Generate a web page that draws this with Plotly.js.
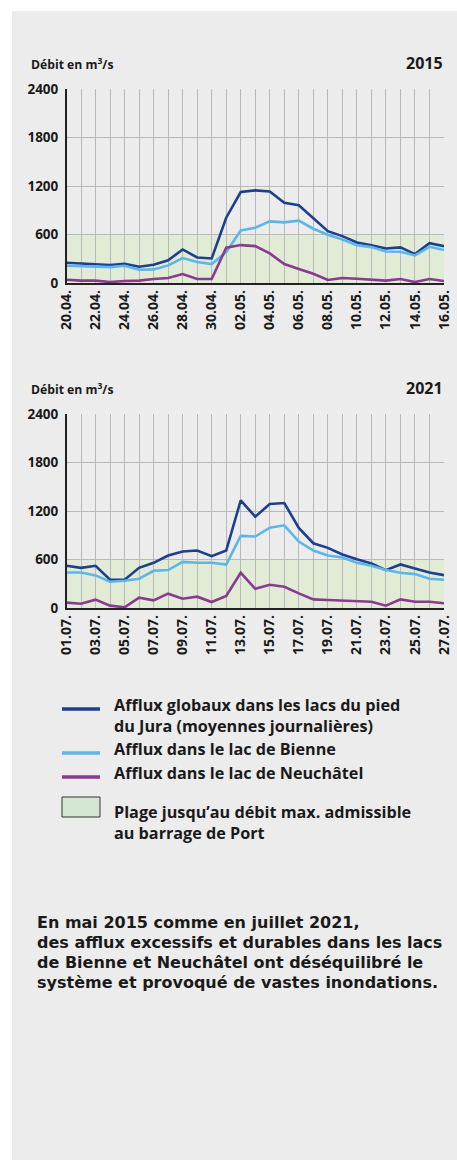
<!DOCTYPE html>
<html><head><meta charset="utf-8">
<script src="https://cdn.plot.ly/plotly-3.0.1.min.js"></script>
<style>html,body{margin:0;padding:0;background:#fff}#chart{width:457px;height:1160px}</style>
</head><body><div id="chart"></div>
<script>
// ---- Data ----
const dates2015 = ["20.04.","21.04.","22.04.","23.04.","24.04.","25.04.","26.04.","27.04.","28.04.","29.04.","30.04.","01.05.","02.05.","03.05.","04.05.","05.05.","06.05.","07.05.","08.05.","09.05.","10.05.","11.05.","12.05.","13.05.","14.05.","15.05.","16.05."];
const dates2021 = ["01.07.","02.07.","03.07.","04.07.","05.07.","06.07.","07.07.","08.07.","09.07.","10.07.","11.07.","12.07.","13.07.","14.07.","15.07.","16.07.","17.07.","18.07.","19.07.","20.07.","21.07.","22.07.","23.07.","24.07.","25.07.","26.07.","27.07."];
const total2015 = [251,243,234,222,238,201,226,280,415,316,304,808,1125,1146,1133,992,962,804,641,580,501,468,427,440,358,493,456];
const bienne2015 = [214,210,201,197,214,164,168,218,308,259,234,382,650,683,762,750,771,671,596,538,468,444,390,386,341,448,407];
const neuch2015 = [41,29,29,12,25,29,49,62,111,49,49,436,469,456,366,234,173,115,37,62,53,41,29,49,12,49,25];
const total2021 = [522,497,522,349,349,497,559,649,699,711,641,711,1331,1130,1286,1299,990,801,744,662,604,551,469,539,489,440,407];
const bienne2021 = [440,440,403,325,337,362,460,469,571,559,559,538,892,884,994,1023,822,711,650,625,559,522,469,436,419,362,349];
const neuch2021 = [66,53,103,29,8,127,95,177,115,140,74,148,436,238,288,263,181,107,99,90,78,78,29,107,78,78,58];
const yTicks = [0,600,1200,1800,2400];
const maxAdmissible = 600;
const seriesNames = ["Afflux globaux dans les lacs du pied du Jura (moyennes journalières)","Afflux dans le lac de Bienne","Afflux dans le lac de Neuchâtel"];
const years = ["2015","2021"];
const paragraph = ['En mai 2015 comme en juillet 2021,',
  'des afflux excessifs et durables dans les lacs',
  'de Bienne et Neuchâtel ont déséquilibré le',
  'système et provoqué de vastes inondations.'];

// ---- Styling / layout helpers ----
const W = 457, H = 1160;
const px = x => x / W;
const py = y => 1 - y / H;
const FONT = '"Open Sans", "Noto Sans", sans-serif';
const PFONT = '"DejaVu Sans", sans-serif';
const TXT = '#1a1a1a';
const colors = ['#1d3f8f', '#5cb6ea', '#8a3a8f'];
const GRID = '#b9b9b9';
const GREEN = '#e1ebd6';

function tickLabels(d) { return d.map((v, i) => i % 2 === 0 ? v : ''); }

const traces = [];
[[dates2015, [total2015, bienne2015, neuch2015], 'x', 'y'],
 [dates2021, [total2021, bienne2021, neuch2021], 'x2', 'y2']].forEach(([d, ser, xa, ya]) => {
  ser.forEach((vals, k) => {
    traces.push({x: d, y: vals, xaxis: xa, yaxis: ya, type: 'scatter', mode: 'lines',
      name: seriesNames[k], line: {color: colors[k], width: 2.6}, showlegend: false, hoverinfo: 'skip'});
  });
});

function xAxis(d, dom, anchor) {
  return {domain: dom, anchor: anchor, type: 'category', range: [0, d.length - 1],
    tickmode: 'array', tickvals: d, ticktext: tickLabels(d), tickangle: -90,
    showgrid: true, gridcolor: GRID, gridwidth: 1, showline: true, linecolor: '#222', linewidth: 1.5,
    ticks: '', zeroline: false, fixedrange: true,
    tickfont: {family: FONT, size: 14, color: TXT, weight: 'bold'}};
}
function yAxis(dom, anchor) {
  return {domain: dom, anchor: anchor, range: [0, 2400], tickmode: 'array', tickvals: yTicks,
    showgrid: true, gridcolor: GRID, gridwidth: 1, showline: true, linecolor: '#222', linewidth: 1.5,
    ticks: '', zeroline: false, fixedrange: true, ticklabelstandoff: 4,
    tickfont: {family: FONT, size: 13.5, color: TXT, weight: 'bold'}};
}

const xDom = [px(66.5), px(444)];
const layout = {
  width: W, height: H, margin: {l: 0, r: 0, t: 0, b: 0},
  paper_bgcolor: '#ffffff', plot_bgcolor: 'rgba(0,0,0,0)', showlegend: false,
  xaxis: xAxis(dates2015, xDom, 'y'),
  yaxis: yAxis([py(283), py(89)], 'x'),
  xaxis2: xAxis(dates2021, xDom, 'y2'),
  yaxis2: yAxis([py(608), py(414)], 'x2'),
  shapes: [
    {type: 'rect', xref: 'paper', yref: 'paper', x0: px(12), x1: 1, y0: 0, y1: py(11),
      fillcolor: '#ececec', line: {width: 0}, layer: 'below'},
    {type: 'rect', xref: 'x domain', yref: 'y', x0: 0, x1: 1, y0: 0, y1: maxAdmissible,
      fillcolor: GREEN, line: {width: 0}, layer: 'below'},
    {type: 'rect', xref: 'x2 domain', yref: 'y2', x0: 0, x1: 1, y0: 0, y1: maxAdmissible,
      fillcolor: GREEN, line: {width: 0}, layer: 'below'},
    // legend symbols
    {type: 'line', xref: 'paper', yref: 'paper', x0: px(62), x1: px(100), y0: py(709), y1: py(709), line: {color: colors[0], width: 3.5}},
    {type: 'line', xref: 'paper', yref: 'paper', x0: px(62), x1: px(100), y0: py(753), y1: py(753), line: {color: colors[1], width: 3.5}},
    {type: 'line', xref: 'paper', yref: 'paper', x0: px(62), x1: px(100), y0: py(777), y1: py(777), line: {color: colors[2], width: 3.5}},
    {type: 'rect', xref: 'paper', yref: 'paper', x0: px(62), x1: px(100), y0: py(817), y1: py(797),
      fillcolor: '#d3e7d2', line: {color: '#333', width: 1}}
  ],
  annotations: []
};

function ann(text, x, y, xanchor, size, family) {
  layout.annotations.push({text: text, xref: 'paper', yref: 'paper', x: px(x), y: py(y),
    xanchor: xanchor, yanchor: 'middle', align: 'left', showarrow: false,
    font: {family: family || FONT, size: size, color: TXT, weight: 'bold'}});
}
ann('Débit en m<sup>3</sup>/s', 29, 64, 'left', 12.2);
ann(years[0], 445, 63, 'right', 16);
ann('Débit en m<sup>3</sup>/s', 29, 389, 'left', 12.2);
ann(years[1], 445, 388, 'right', 16);

const LX = 112, LS = 16.2;
ann('Afflux globaux dans les lacs du pied<br>du Jura (moyennes journalières)', LX, 715.5, 'left', LS);
ann('Afflux dans le lac de Bienne', LX, 749, 'left', LS);
ann('Afflux dans le lac de Neuchâtel', LX, 773, 'left', LS);
ann('Plage jusqu’au débit max. admissible<br>au barrage de Port', LX, 822.5, 'left', LS);

// paragraph: one line per annotation, 20 px apart
paragraph.forEach((s, i) => ann(s, 35, 922 + 20 * i, 'left', 16, PFONT));

Plotly.newPlot('chart', traces, layout, {staticPlot: true, displayModeBar: false});
</script></body></html>
